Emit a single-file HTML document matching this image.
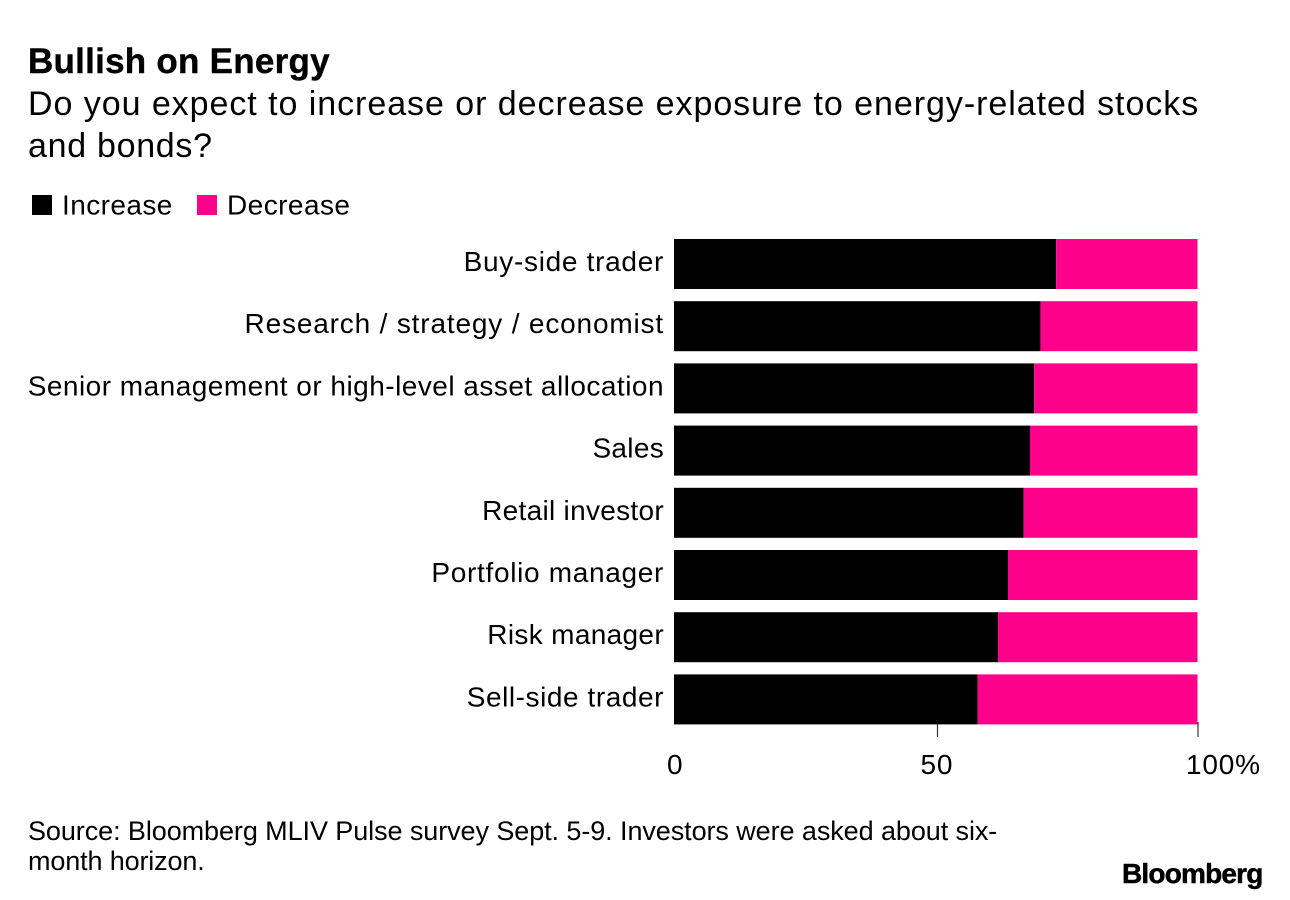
<!DOCTYPE html>
<html lang="en">
<head>
<meta charset="utf-8">
<title>Bullish on Energy</title>
<style>
html,body{margin:0;padding:0;background:#fff}
svg{display:block}
text{font-family:"Liberation Sans",sans-serif;fill:#000}
</style>
</head>
<body>
<svg id="chart" xmlns="http://www.w3.org/2000/svg" width="1290" height="900" viewBox="0 0 1290 900">
<rect width="1290" height="900" fill="#fff"/>
<text x="28" y="73" font-size="35" font-weight="700" letter-spacing="0.25" stroke="#000" stroke-width="0.4">Bullish on Energy</text>
<text x="28" y="115" font-size="34" letter-spacing="0.95">Do you expect to increase or decrease exposure to energy-related stocks</text>
<text x="28" y="157" font-size="34" letter-spacing="0.7">and bonds?</text>
<g>
<rect x="32" y="195" width="20" height="20" fill="#000"/>
<text x="62" y="214.500" font-size="28" letter-spacing="0.42">Increase</text>
<rect x="197" y="195" width="20" height="20" fill="#ff008a"/>
<text x="227" y="214.500" font-size="28" letter-spacing="0.45">Decrease</text>
</g>
<g id="plot"></g>
<text x="28" y="840" font-size="27" letter-spacing="-0.08">Source: Bloomberg MLIV Pulse survey Sept. 5-9. Investors were asked about six-</text>
<text x="28" y="870" font-size="27" letter-spacing="-0.14">month horizon.</text>
<text x="1122" y="883" font-size="28" font-weight="700" letter-spacing="-0.8" stroke="#000" stroke-width="0.5">Bloomberg</text>
</svg>
<script>
const categories = ["Buy-side trader","Research / strategy / economist","Senior management or high-level asset allocation","Sales","Retail investor","Portfolio manager","Risk manager","Sell-side trader"];
const increaseValues = [73,70,68.8,68,66.8,63.8,61.9,58];
const decreaseValues = [27,30,31.2,32,33.2,36.2,38.1,42];
const tickValues = [0,50,100];
const tickLabels = ["0","50","100%"];

const NS = "http://www.w3.org/2000/svg";
const plot = document.getElementById("plot");
const X0 = 674, X1 = 1197.5, BAND_TOP = 239, BAND_STEP = 62.2, BAR_H = 50;
const LABEL_TRACKING = {"Buy-side trader":0.7,"Research / strategy / economist":0.83,"Senior management or high-level asset allocation":0.48,"Sales":0.3,"Retail investor":0.3,"Portfolio manager":0.68,"Risk manager":0.33,"Sell-side trader":0.56};
const xScale = v => X0 + (v / 100) * (X1 - X0);
const tickScale = v => 677 + (v / 100) * 521;
const yScale = i => BAND_TOP + i * BAND_STEP;
function make(tag, attrs, text){
  const el = document.createElementNS(NS, tag);
  for (const k in attrs) el.setAttribute(k, attrs[k]);
  if (text !== undefined) el.textContent = text;
  plot.appendChild(el);
  return el;
}
categories.forEach((cat, i) => {
  const y = yScale(i);
  const label = make("text", {x: 664, y: y + 32, "font-size": 28, "letter-spacing": LABEL_TRACKING[cat] ?? 0.5, "text-anchor": "end"}, cat);
  
  
  const inc = make("rect", {x: xScale(0), y: y, width: xScale(increaseValues[i]) - xScale(0), height: BAR_H, fill: "#000"});
  
  
  const dec = make("rect", {x: xScale(increaseValues[i]), y: y, width: xScale(increaseValues[i] + decreaseValues[i]) - xScale(increaseValues[i]), height: BAR_H, fill: "#ff008a"});
  
  
});
tickValues.forEach((v, i) => {
  const x = tickScale(v);
  if (v !== 0) {
    const tick = make("line", {x1: x, x2: x, y1: v === 100 ? 722 : 724, y2: 737, stroke: "#333", "stroke-width": 1.2});
    
    
  }
  const anchor = i === tickValues.length - 1 ? x - 12 : x - (v === 0 ? 10 : 17);
  const lbl = make("text", {x: anchor, y: 774, "font-size": 28, "letter-spacing": 0.8}, tickLabels[i]);
  
  
});
</script>
</body>
</html>
